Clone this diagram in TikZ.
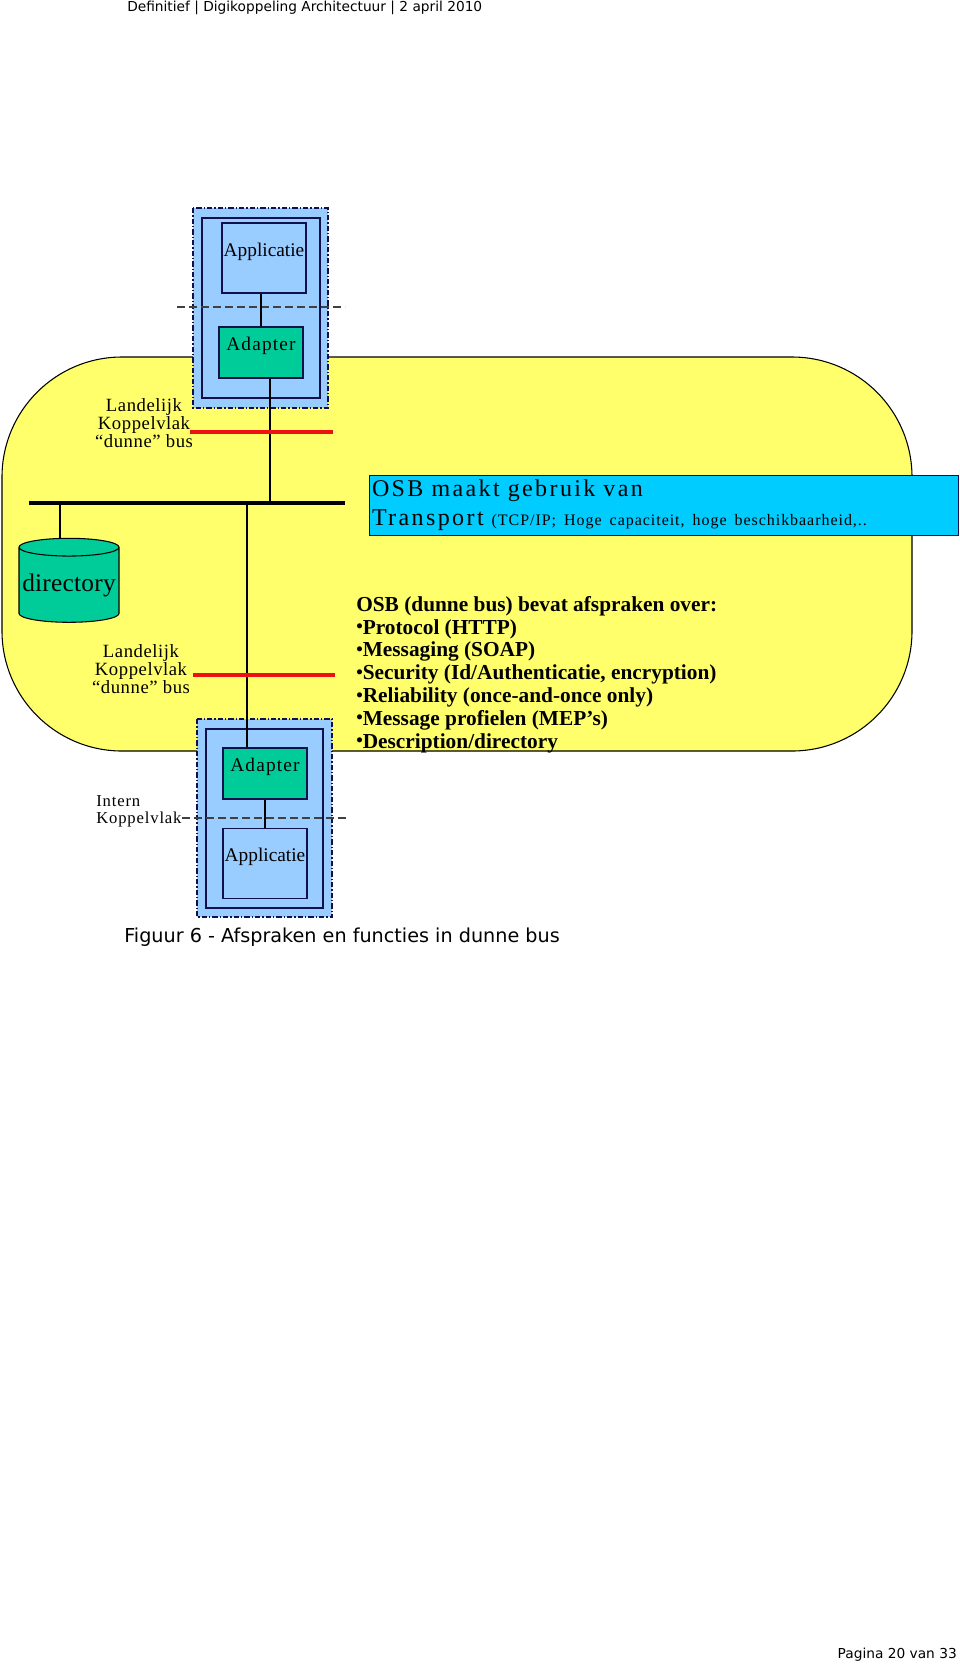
\documentclass[tikz,border=0pt]{standalone}
\usepackage{fontspec}
\setmainfont{Liberation Serif}
\newfontfamily\verdana{DejaVu Sans}
\usetikzlibrary{shapes.geometric}

\definecolor{busgeel}{HTML}{FFFF6B}
\definecolor{appblauw}{HTML}{99CCFF}
\definecolor{adaptgroen}{HTML}{00CC99}
\definecolor{osbcyaan}{HTML}{00CCFF}
\definecolor{lijnblauw}{HTML}{10104A}
\definecolor{koppelrood}{HTML}{EE1111}

\newcommand{\spatie}[1]{\addfontfeature{LetterSpace=#1}}
\newcommand{\osbdot}{\raisebox{1pt}{\fontsize{14}{14}\selectfont •}}

\begin{document}
\begin{tikzpicture}[x=0.75pt,y=-0.75pt,
  blok/.style={draw=lijnblauw,line width=0.9pt,minimum width=63pt,inner sep=0pt,
    text height=10pt,text depth=13pt,font=\fontsize{14.5}{16}\selectfont},
  appblok/.style={blok,fill=appblauw,minimum height=52.5pt},
  adaptblok/.style={blok,fill=adaptgroen,minimum height=38.25pt,font=\fontsize{14.5}{16}\selectfont\spatie{6}},
  kader/.style={draw=lijnblauw,fill=appblauw,line width=0.9pt,
    dash pattern=on 4pt off 1.5pt on 1pt off 1.5pt},
  binnen/.style={draw=lijnblauw,line width=0.9pt},
  koppel/.style={draw=koppelrood,line width=3pt},
  verbind/.style={draw=black,line width=0.8pt},
  snede/.style={draw=black!75,line width=0.9pt,dash pattern=on 6pt off 3pt},
  lbl/.style={align=center,inner sep=0pt,font=\fontsize{14}{13.5}\selectfont\spatie{3}}]
\useasboundingbox (0,0) rectangle (960,1664);

\node[anchor=base west,inner sep=0pt,font=\verdana\fontsize{10.3}{12}\selectfont] (kop) at (127,11.5)
  {Definitief | Digikoppeling Architectuur | 2 april 2010};

% dunne bus
\draw[fill=busgeel,line width=0.8pt,rounded corners=90pt] (2,357) rectangle (912,751);

% bovenste applicatie
\draw[kader] (193,208) rectangle (328,408);
\draw[binnen] (202,218) rectangle (320,398);
\node[appblok] (appT) at (264,258) {Applicatie};
\node[adaptblok] (adpT) at (261,352.5) {Adapter};
\draw[snede] (177,307) -- (345,307);

% onderste applicatie
\draw[kader] (197,719) rectangle (332,917);
\draw[binnen] (206,729) rectangle (323,908);
\node[adaptblok] (adpB) at (265,773.5) {Adapter};
\node[appblok] (appB) at (265,863.5) {Applicatie};

\coordinate (busW) at (29,503);
\coordinate (busE) at (345,503);
\draw[line width=3pt] (busW) -- (busE);

\node[cylinder,shape border rotate=90,draw,line width=0.8pt,aspect=0.19,
  minimum width=75pt,minimum height=63pt,inner sep=0pt,
  cylinder uses custom fill,cylinder body fill=adaptgroen,cylinder end fill=adaptgroen,
  font=\fontsize{19}{20}\selectfont\spatie{1}] (dir) at (69,585) {directory};

\draw[verbind] (adpT.north) -- (adpT.north |- appT.south);
\draw[verbind] ([xshift=6.75pt]adpT.south) -- ([xshift=6.75pt]adpT.south |- busW);
\draw[verbind] ([xshift=-6.75pt]dir.north) -- ([xshift=-6.75pt]dir.north |- busW);
\draw[verbind] ([xshift=-13.5pt]adpB.north) -- ([xshift=-13.5pt]adpB.north |- busW);
\draw[verbind] (adpB.south) -- (appB.north);

\node[lbl] (landT) at (144,423) {Landelijk\\Koppelvlak\\“dunne” bus};
\node[lbl] (landB) at (141,669) {Landelijk\\Koppelvlak\\“dunne” bus};
\draw[koppel] (190,432) -- (333,432);
\draw[koppel] (193,675) -- (335,675);

\node[anchor=west,align=left,inner sep=0pt,font=\fontsize{12.5}{12.5}\selectfont\spatie{5}] (intern) at (96,811)
  {Intern\\Koppelvlak};
\draw[snede] (182,818) -- (348,818);

\node[draw=lijnblauw,fill=osbcyaan,line width=0.8pt,anchor=north west,minimum width=441.75pt,
  minimum height=45pt,text width=438pt,inner xsep=1.5pt,inner ysep=0pt,align=left,
  font=\fontsize{18}{21.75}\selectfont\spatie{10}] (osb) at (369,475)
  {OSB maakt gebruik van\\Transport {\fontsize{12}{14}\selectfont\spatie{6}(TCP/IP; Hoge capaciteit, hoge beschikbaarheid,..}};

\node[anchor=west,align=left,inner sep=0pt,font=\bfseries\fontsize{16}{17.1}\selectfont] (afspraken) at (356,674.5)
  {OSB (dunne bus) bevat afspraken over:\\
   \osbdot Protocol (HTTP)\\
   \osbdot Messaging (SOAP)\\
   \osbdot Security (Id/Authenticatie, encryption)\\
   \osbdot Reliability (once-and-once only)\\
   \osbdot Message profielen (MEP’s)\\
   \osbdot Description/directory};

\node[anchor=base west,inner sep=0pt,font=\verdana\fontsize{14.4}{16}\selectfont] (figuur) at (124,942)
  {Figuur 6 - Afspraken en functies in dunne bus};
\node[anchor=base east,inner sep=0pt,font=\verdana\fontsize{10.3}{12}\selectfont] (pagina) at (957,1658)
  {Pagina 20 van 33};
\end{tikzpicture}
\end{document}
